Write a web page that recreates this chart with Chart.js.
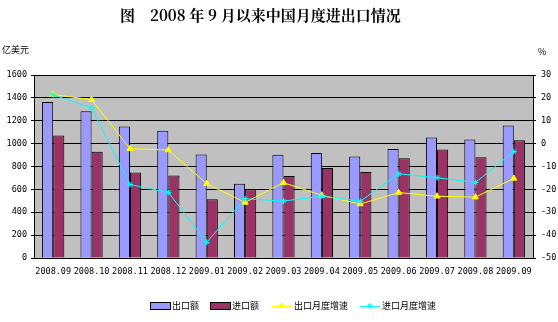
<!DOCTYPE html>
<html>
<head>
<meta charset="utf-8">
<script src="https://cdn.jsdelivr.net/npm/chart.js@4.4.0/dist/chart.umd.min.js"></script>
<style>
html,body{margin:0;padding:0;background:#fff;}
#wrap{width:558px;height:322px;position:relative;}
</style>
</head>
<body>
<div id="wrap"><canvas id="c" width="558" height="322"></canvas></div>
<script>
const categories = ['2008.09','2008.10','2008.11','2008.12','2009.01','2009.02','2009.03','2009.04','2009.05','2009.06','2009.07','2009.08','2009.09'];
const exportValue = [1364,1283,1150,1112,904,649,903,919,888,954,1054,1037,1159];
const importValue = [1071,930,748,722,513,601,717,787,752,872,948,880,1029];
const exportGrowth = [21.5,19.2,-2.2,-2.8,-17.5,-25.7,-17.1,-22.6,-26.4,-21.4,-23.0,-23.4,-15.2];
const importGrowth = [21.3,15.6,-17.9,-21.3,-43.1,-24.1,-25.1,-23.0,-25.2,-13.2,-14.9,-17.0,-3.5];
const leftTicks = [0,200,400,600,800,1000,1200,1400,1600];
const rightTicks = [-50,-40,-30,-20,-10,0,10,20,30];
const seriesNames = ['出口额','进口额','出口月度增速','进口月度增速'];
const titleText = ['图','2008 年 9 月以来中国月度进出口情况'];
const leftUnit = '亿美元';
const rightUnit = '%';

const monoFont = "'DejaVu Sans Mono', monospace";
const cjk = "'Noto Sans CJK SC', sans-serif";

const deco = {
  id: 'deco',
  beforeDraw(chart) {
    const {ctx, chartArea: a} = chart;
    ctx.save();
    ctx.fillStyle = '#c0c0c0';
    ctx.fillRect(a.left, a.top, a.right - a.left, a.bottom - a.top);
    ctx.restore();
  },
  afterDraw(chart) {
    const ctx = chart.ctx;
    ctx.save();
    ctx.fillStyle = '#000';
    ctx.textBaseline = 'middle';
    ctx.font = "bold 15px 'Noto Serif CJK SC', 'Noto Sans CJK SC', serif";
    ctx.textAlign = 'left';
    ctx.fillText(titleText[0], 120, 15);
    ctx.fillText(titleText[1], 150, 15);
    ctx.font = "9px " + cjk;
    ctx.fillText(leftUnit, 2, 50);
    ctx.fillText(rightUnit, 538, 52);
    // legend
    const ds = chart.data.datasets;
    const items = [
      {x:150, type:'box'}, {x:210, type:'box'}, {x:272, type:'line', ps:'triangle'}, {x:360, type:'line', ps:'star'}
    ];
    const ly = 306;
    ctx.font = "9px " + cjk;
    items.forEach((it, i) => {
      const d = ds[i];
      if (it.type === 'box') {
        ctx.fillStyle = d.backgroundColor;
        ctx.fillRect(it.x, ly - 3, 20, 6);
        ctx.strokeStyle = '#000';
        ctx.lineWidth = 1;
        ctx.strokeRect(it.x + 0.5, ly - 3.5, 20, 7);
      } else {
        ctx.strokeStyle = d.borderColor;
        ctx.lineWidth = 1;
        ctx.beginPath(); ctx.moveTo(it.x, ly + 0.5); ctx.lineTo(it.x + 20, ly + 0.5); ctx.stroke();
        Chart.helpers.drawPoint(ctx, {pointStyle: it.ps, radius: 3, borderWidth: 1, rotation: 0}, it.x + 10, ly);
        if (it.ps === 'triangle') { ctx.fillStyle = d.pointBackgroundColor; Chart.helpers.drawPoint(ctx, {pointStyle:'triangle', radius:3, borderWidth:1}, it.x+10, ly); ctx.fill(); }
      }
      ctx.fillStyle = '#000';
      ctx.fillText(d.label, it.x + 22, ly);
    });
    ctx.restore();
  }
};

new Chart(document.getElementById('c'), {
  type: 'bar',
  data: {
    labels: categories,
    datasets: [
      {label: seriesNames[0], data: exportValue, backgroundColor: '#9999ff', borderColor: '#000', borderWidth: 1, yAxisID: 'y', order: 2, categoryPercentage: 0.58, barPercentage: 1.0},
      {label: seriesNames[1], data: importValue, backgroundColor: '#993366', borderColor: '#000', borderWidth: 1, yAxisID: 'y', order: 2, categoryPercentage: 0.58, barPercentage: 1.0},
      {type: 'line', label: seriesNames[2], data: exportGrowth, borderColor: '#ffff00', backgroundColor: '#ffff00', pointBackgroundColor: '#ffff00', pointBorderColor: '#ffff00', pointStyle: 'triangle', pointRadius: 3.5, borderWidth: 1, yAxisID: 'y1', order: 1, tension: 0},
      {type: 'line', label: seriesNames[3], data: importGrowth, borderColor: '#00ffff', backgroundColor: '#00ffff', pointBorderColor: '#00ffff', pointStyle: 'star', pointRadius: 3, pointBorderWidth: 1, borderWidth: 1, yAxisID: 'y1', order: 0, tension: 0}
    ]
  },
  options: {
    responsive: false,
    animation: false,
    devicePixelRatio: 1,
    layout: {padding: {top: 75, left: 0, right: 0, bottom: 0}},
    plugins: {legend: {display: false}, title: {display: false}, tooltip: {enabled: false}},
    scales: {
      x: {
        offset: true,
        grid: {display: true, drawOnChartArea: false, drawTicks: false, color: '#000'},
        border: {color: '#000', width: 1},
        ticks: {font: {family: monoFont, size: 8.5}, color: '#000', padding: 9, maxRotation: 0, autoSkip: false},
        afterFit(s) { s.height = 64; }
      },
      y: {
        position: 'left',
        min: 0, max: 1600,
        afterBuildTicks(s) { s.ticks = leftTicks.map(v => ({value: v})); },
        grid: {color: '#000', lineWidth: 1, tickLength: 3},
        border: {color: '#000', width: 1},
        ticks: {font: {family: monoFont, size: 8.5}, color: '#000', padding: 4, callback: v => String(v)},
        afterFit(s) { s.width = 34; }
      },
      y1: {
        position: 'right',
        min: -50, max: 30,
        afterBuildTicks(s) { s.ticks = rightTicks.map(v => ({value: v})); },
        grid: {drawOnChartArea: false, color: '#000', tickLength: 3},
        border: {color: '#000', width: 1},
        ticks: {font: {family: monoFont, size: 8.5}, color: '#000', padding: 5, callback: v => String(v)},
        afterFit(s) { s.width = 25; }
      }
    }
  },
  plugins: [deco]
});
</script>
</body>
</html>
